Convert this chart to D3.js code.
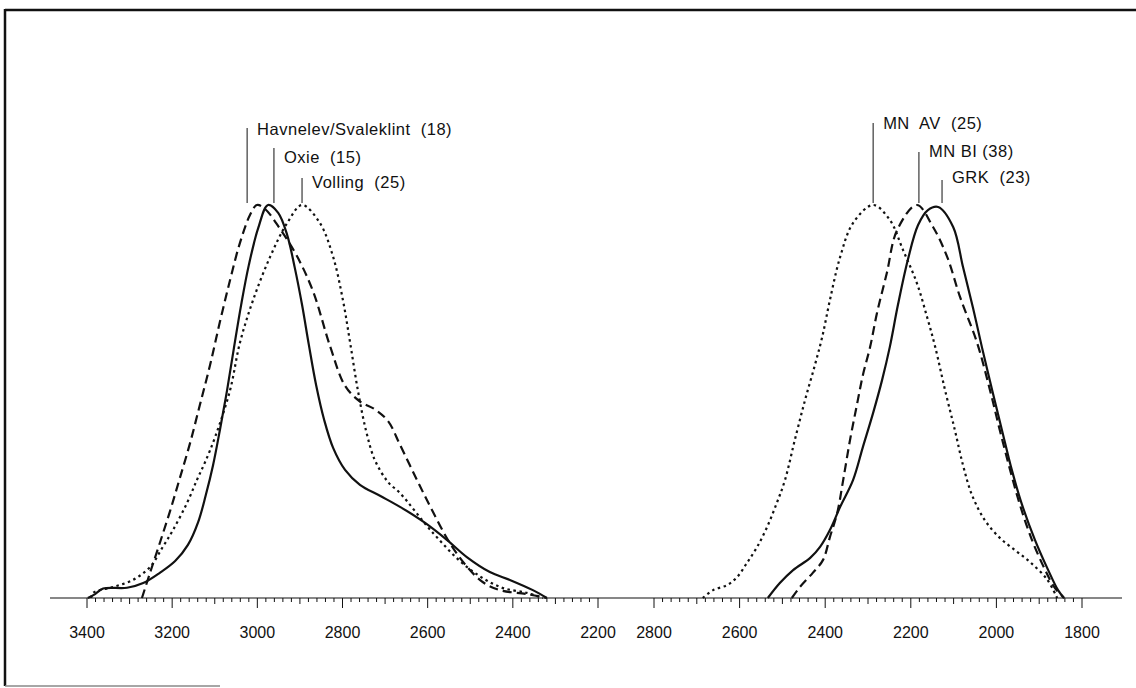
<!DOCTYPE html>
<html>
<head>
<meta charset="utf-8">
<script src="https://cdn.jsdelivr.net/npm/d3@7"></script>
<style>
  body { margin: 0; background: #fff; }
  svg { display: block; }
  text { font-family: "Liberation Sans", Arial, sans-serif; fill: #111; white-space: pre; }
</style>
</head>
<body>
<svg id="chart" width="1136" height="688"></svg>
<script>
// years (cal BC) and relative frequency (peak = 100)
const havnelevYears = [3271, 3252, 3229, 3205, 3182, 3158, 3135, 3111, 3088, 3064, 3041, 3017, 3001, 2982, 2947, 2907, 2869, 2829, 2794, 2759, 2724, 2693, 2665, 2625, 2588, 2548, 2508, 2470, 2430, 2367, 2320];
const havnelevFreq  = [0, 6.4, 14, 22.1, 30.5, 39.4, 49.1, 59.3, 70.2, 80.9, 90.3, 97.5, 100, 99, 94, 87, 78, 64, 54, 50, 48, 45, 39, 30, 22, 14, 8, 4, 2, 1, 0];

const oxieYears = [3398, 3381, 3362, 3306, 3268, 3229, 3193, 3163, 3139, 3121, 3104, 3088, 3071, 3055, 3038, 3020, 2998, 2975, 2951, 2930, 2912, 2895, 2879, 2862, 2843, 2822, 2794, 2759, 2712, 2665, 2606, 2555, 2508, 2454, 2407, 2353, 2320];
const oxieFreq  = [0, 1, 2.4, 2.6, 3.8, 6.4, 9.4, 13.5, 19.3, 26.2, 33.8, 42.7, 52.9, 63.6, 74.6, 84.7, 94.1, 100, 98, 92.4, 84, 74.6, 64.4, 54.2, 45.3, 38.2, 32.6, 28.8, 26, 23.2, 19.1, 14.8, 10.4, 6.6, 4.6, 2, 0];

const vollingYears = [3390, 3386, 3339, 3292, 3252, 3222, 3198, 3165, 3142, 3123, 3099, 3064, 3041, 3010, 2970, 2930, 2895, 2853, 2822, 2799, 2782, 2764, 2745, 2724, 2693, 2665, 2587, 2508, 2430, 2367, 2329];
const vollingFreq  = [0, 1.3, 2.8, 4.6, 7.9, 13, 17.3, 24.2, 30, 34.5, 41, 52.9, 64.9, 75.8, 86.8, 95.4, 100, 95.4, 86.8, 75.8, 64.9, 52.9, 42.7, 35.1, 29.5, 26.7, 16.5, 7.9, 2.8, 1.3, 0];

const mnavYears = [2686, 2662, 2629, 2606, 2583, 2559, 2536, 2513, 2494, 2471, 2447, 2424, 2407, 2389, 2365, 2335, 2288, 2249, 2218, 2186, 2162, 2143, 2120, 2097, 2078, 2057, 2027, 1992, 1957, 1922, 1882, 1858];
const mnavFreq  = [0, 2, 3.3, 5.3, 8.9, 13, 18, 24.2, 30, 40.2, 50.4, 59.3, 66.4, 75.8, 86.8, 95.4, 100, 96.2, 88.5, 80.2, 71.5, 63.9, 52.9, 42.7, 33.8, 26.2, 19.8, 15.3, 12.2, 9.2, 4.8, 0];

const mnbiYears = [2478, 2459, 2429, 2405, 2389, 2372, 2358, 2342, 2326, 2312, 2295, 2279, 2256, 2232, 2186, 2148, 2115, 2085, 2045, 2015, 1992, 1968, 1945, 1917, 1886, 1863, 1842];
const mnbiFreq  = [0, 2.8, 6.4, 9.7, 15.5, 21.6, 30, 40.2, 49.1, 56.7, 63.9, 72.5, 82.7, 93.6, 100, 94.4, 86.8, 76.6, 64.9, 52.9, 42.7, 32.6, 23.7, 14.8, 7.1, 2.5, 0];

const grkYears = [2534, 2506, 2475, 2435, 2412, 2389, 2365, 2335, 2312, 2288, 2267, 2249, 2230, 2207, 2183, 2160, 2136, 2101, 2078, 2055, 2034, 2010, 1987, 1964, 1940, 1910, 1879, 1856, 1842];
const grkFreq  = [0, 3.8, 7.1, 10.2, 13, 17.3, 23.2, 30, 38.4, 47.1, 55.5, 63.9, 74.6, 86, 94.9, 98.7, 99.5, 94.4, 84.2, 74, 63.9, 52.9, 42.7, 32.6, 23.7, 14.8, 7.1, 2, 0];

// label texts and the year each leader line points at
const leftLabels  = ["Havnelev/Svaleklint  (18)", "Oxie  (15)", "Volling  (25)"];
const leftLeaders = [3024, 2961, 2895];
const rightLabels  = ["MN  AV  (25)", "MN BI (38)", "GRK  (23)"];
const rightLeaders = [2288, 2181, 2127];

const leftTicks  = [3400, 3200, 3000, 2800, 2600, 2400, 2200];
const rightTicks = [2800, 2600, 2400, 2200, 2000, 1800];

const svg = d3.select("#chart");
const baseY = 598;

const xLeft  = d3.scaleLinear().domain([3400, 2200]).range([87, 598]);
const xRight = d3.scaleLinear().domain([2800, 1800]).range([654, 1082]);
const y = d3.scaleLinear().domain([0, 100]).range([baseY, 205]);

// frame of the scanned figure
svg.append("line").attr("x1", 5).attr("x2", 1136).attr("y1", 10).attr("y2", 10)
  .attr("stroke", "#111").attr("stroke-width", 2.5);
svg.append("line").attr("x1", 5).attr("x2", 5).attr("y1", 9).attr("y2", 686)
  .attr("stroke", "#111").attr("stroke-width", 2.5);
svg.append("line").attr("x1", 5).attr("x2", 220).attr("y1", 686).attr("y2", 686)
  .attr("stroke", "#888").attr("stroke-width", 1.5);

// baseline
svg.append("line").attr("x1", 50).attr("x2", 1122).attr("y1", baseY).attr("y2", baseY)
  .attr("stroke", "#111").attr("stroke-width", 1.2);

function drawAxis(scale, ticks) {
  const lo = d3.min(ticks), hi = d3.max(ticks);
  const g = svg.append("g");
  const minor = d3.range(lo, hi + 1, 20);
  g.selectAll("line.minor").data(minor).enter().append("line")
    .attr("x1", d => scale(d)).attr("x2", d => scale(d))
    .attr("y1", baseY).attr("y2", d => d % 200 === 0 ? baseY + 10 : (d % 100 === 0 ? baseY + 6 : baseY + 4))
    .attr("stroke", "#111").attr("stroke-width", 1);
  g.selectAll("text").data(ticks).enter().append("text")
    .attr("x", d => scale(d)).attr("y", 638)
    .attr("text-anchor", "middle").attr("font-size", 16)
    .text(d => d);
}
drawAxis(xLeft, leftTicks);
drawAxis(xRight, rightTicks);

const series = [
  { scale: xLeft,  years: havnelevYears, freq: havnelevFreq, dash: "9,5" },
  { scale: xLeft,  years: oxieYears,     freq: oxieFreq,     dash: null },
  { scale: xLeft,  years: vollingYears,  freq: vollingFreq,  dash: "2.5,3.5" },
  { scale: xRight, years: mnavYears,     freq: mnavFreq,     dash: "2.5,3.5" },
  { scale: xRight, years: mnbiYears,     freq: mnbiFreq,     dash: "9,5" },
  { scale: xRight, years: grkYears,      freq: grkFreq,      dash: null }
];

series.forEach(s => {
  const pts = s.years.map((yr, i) => [yr, s.freq[i]]);
  const line = d3.line()
    .x(d => s.scale(d[0]))
    .y(d => y(d[1]))
    .curve(d3.curveCatmullRom.alpha(0.5));
  svg.append("path").datum(pts)
    .attr("d", line)
    .attr("fill", "none")
    .attr("stroke", "#111")
    .attr("stroke-width", 2.2)
    .attr("stroke-dasharray", s.dash);
});

// leader lines and labels
const labelTops = [128, 148, 178];
const labelBase = [135, 163, 188];
const rightTops = [123, 152, 180];
const rightBase = [129, 157, 183];

function drawLabels(scale, texts, years, tops, bases) {
  texts.forEach((t, i) => {
    const lx = scale(years[i]);
    svg.append("line").attr("x1", lx).attr("x2", lx)
      .attr("y1", tops[i]).attr("y2", 203)
      .attr("stroke", "#111").attr("stroke-width", 1);
    svg.append("text").attr("x", lx + 10).attr("y", bases[i])
      .attr("font-size", 16.5).attr("letter-spacing", 0.5)
      .text(t);
  });
}
drawLabels(xLeft, leftLabels, leftLeaders, labelTops, labelBase);
drawLabels(xRight, rightLabels, rightLeaders, rightTops, rightBase);
</script>
</body>
</html>
